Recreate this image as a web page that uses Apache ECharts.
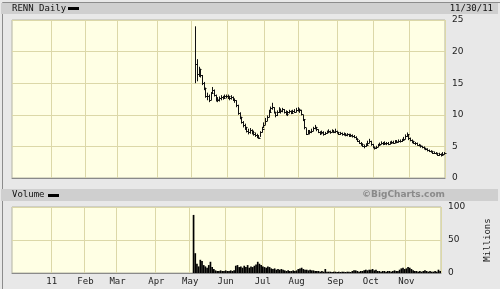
<!DOCTYPE html>
<html><head><meta charset="utf-8">
<script src="https://cdn.jsdelivr.net/npm/echarts@6/dist/echarts.min.js"></script>
<style>html,body{margin:0;padding:0;background:#e8e8e8}#c{width:500px;height:289px}</style>
</head><body><div id="c"></div>
<script>
// ---- data ----
const symbolTitle = 'RENN Daily';
const asOfDate = '11/30/11';
const rangeStart = [2010, 10, 30]; // Nov 30, 2010 (UTC y, m0, d)
const rangeEnd = [2011, 10, 30];   // Nov 30, 2011
const holidays = ['2010-12-24','2011-01-17','2011-02-21','2011-04-22','2011-05-30','2011-07-04','2011-09-05','2011-11-24'];
const monthLabels = {'01':'11','02':'Feb','03':'Mar','04':'Apr','05':'May','06':'Jun','07':'Jul','08':'Aug','09':'Sep','10':'Oct','11':'Nov','12':'Dec'};
const ipoDate = '2011-05-04';
const priceTicks = [0, 5, 10, 15, 20, 25];
const volumeTicks = [0, 50, 100];

const priceHigh = [
 24.0,18.8,17.6,17.3,16.3,15.2,14.3,13.5,13.2,13.6,14.4,14.0,13.2,12.8,12.9,13.1,13.0,13.2,13.2,
 13.2,13.0,13.1,12.9,12.6,12.3,11.6,10.4,9.7,9.0,8.6,8.1,7.8,7.9,7.7,7.5,7.2,7.0,6.8,7.4,8.1,8.8,
 9.5,9.9,10.8,11.3,11.9,11.2,10.5,10.7,11.2,11.0,11.1,10.9,10.7,10.6,10.8,10.7,10.8,10.9,11.1,11.2,
 11.0,10.8,10.0,9.2,7.9,7.6,7.6,7.8,8.1,8.4,8.1,7.7,7.4,7.5,7.4,7.3,7.5,7.7,7.5,7.7,7.6,7.8,7.5,
 7.3,7.3,7.2,7.2,7.1,7.1,7.0,7.0,6.9,6.8,6.6,6.3,6.0,5.7,5.5,5.3,5.5,5.9,6.2,5.9,5.4,
 5.0,5.1,5.4,5.6,5.8,5.7,5.8,5.7,5.7,5.8,5.9,5.9,6.0,6.0,6.1,6.1,6.2,6.5,6.9,7.2,6.9,
 6.4,6.1,5.9,5.7,5.6,5.4,5.3,5.1,5.0,4.8,4.7,4.5,4.4,4.3,4.2,4.1,4.0,4.0,3.9,4.1,4.1
];
const priceLow = [
 15.0,15.3,16.0,15.9,14.7,13.9,12.7,12.3,12.0,12.3,13.3,12.9,12.1,12.0,12.1,12.3,12.4,12.5,12.6,
 12.5,12.3,12.4,12.2,11.9,11.2,10.0,9.3,8.6,8.0,7.6,7.2,6.9,7.0,6.9,6.7,6.5,6.3,6.2,6.5,7.2,7.9,
 8.4,9.0,9.6,10.4,10.8,10.2,9.6,9.8,10.3,10.2,10.4,10.2,9.9,9.8,10.2,10.1,10.2,10.3,10.4,10.5,
 10.3,9.9,9.0,7.7,6.8,6.9,6.9,7.1,7.4,7.7,7.4,7.1,6.8,6.9,6.7,6.8,7.0,7.1,7.0,7.2,7.1,7.1,7.0,
 6.8,6.8,6.7,6.7,6.6,6.6,6.5,6.5,6.4,6.3,6.0,5.7,5.4,5.1,4.9,4.7,4.9,5.2,5.5,5.1,4.7,
 4.5,4.6,4.9,5.1,5.3,5.2,5.3,5.2,5.2,5.3,5.5,5.4,5.5,5.5,5.6,5.6,5.7,5.9,6.1,6.5,6.0,
 5.8,5.5,5.4,5.2,5.1,5.0,4.8,4.7,4.5,4.4,4.2,4.1,4.0,3.8,3.8,3.7,3.5,3.5,3.4,3.6,3.7
];
const priceClose = [
 18.0,16.4,17.2,16.3,15.1,14.2,13.0,12.9,12.4,13.4,14.0,13.2,12.5,12.3,12.6,12.8,12.7,13.0,12.9,
 12.9,12.6,12.8,12.4,12.3,11.5,10.3,9.6,8.9,8.4,8.0,7.5,7.2,7.6,7.3,7.0,6.8,6.5,6.4,7.2,7.8,8.4,
 9.0,9.6,10.5,11.0,11.3,10.4,9.9,10.4,10.8,10.6,10.9,10.5,10.2,10.4,10.6,10.3,10.6,10.5,10.8,10.9,
 10.7,10.2,9.3,8.0,7.0,7.4,7.2,7.5,7.9,8.1,7.7,7.3,7.1,7.3,7.0,7.1,7.3,7.4,7.2,7.5,7.3,7.4,7.2,
 7.0,7.1,6.9,7.0,6.8,6.9,6.7,6.8,6.6,6.5,6.2,5.9,5.6,5.4,5.1,5.0,5.3,5.6,5.9,5.4,4.9,
 4.7,4.9,5.2,5.4,5.5,5.4,5.6,5.5,5.4,5.6,5.7,5.6,5.8,5.7,5.9,5.8,6.0,6.2,6.6,6.9,6.3,
 6.0,5.8,5.6,5.5,5.3,5.2,5.0,4.9,4.7,4.6,4.4,4.3,4.2,4.0,4.0,3.9,3.7,3.8,3.7,3.8,3.9
];
const volumeMillions = [
 88,30,14,10,20,18,12,10,8,12,17,9,6,4,3,3,4,3,3,
 4,3,3,4,3,4,11,12,9,10,8,11,9,12,8,10,9,11,13,17,14,12,
 10,9,8,10,9,7,6,7,5,6,5,6,5,4,3,4,3,3,4,3,
 4,6,7,8,6,5,5,4,5,4,4,3,3,3,2,3,2,6,2,2,2,1.5,2,
 2,1.5,2,1.5,2,2,1.5,2,2,1.5,3,4,4,3,2,3,3,4,5,4,5,
 5,6,4,5,3,3,2,3,3,2,3,3,2,3,4,3,3,5,7,8,6,
 7,9,8,6,4,3,3,2,3,2,3,4,3,2,3,2,2,3,2,5,3
];

// ---- build trading-day categories ----
function tradingDays(){
  const out=[]; let t=Date.UTC(rangeStart[0],rangeStart[1],rangeStart[2]); const end=Date.UTC(rangeEnd[0],rangeEnd[1],rangeEnd[2]);
  while(t<=end){ const d=new Date(t); const wd=d.getUTCDay(); const s=d.toISOString().slice(0,10);
    if(wd!==0 && wd!==6 && holidays.indexOf(s)<0) out.push(s); t+=86400000; }
  return out;
}
const days = tradingDays();
const ipoIdx = days.indexOf(ipoDate);
if (priceHigh.length!==priceLow.length || priceLow.length!==priceClose.length || priceClose.length!==volumeMillions.length || ipoIdx+priceClose.length!==days.length)
  throw new Error('length mismatch '+priceHigh.length+' '+priceLow.length+' '+priceClose.length+' '+volumeMillions.length+' '+ipoIdx+' '+days.length);

const isMonthStart = i => i>0 && days[i].slice(5,7)!==days[i-1].slice(5,7) && days[i].slice(5,7)!=='12';
const ohlc = priceClose.map((c,k)=>[ipoIdx+k, priceLow[k], priceHigh[k], c]);
const volData = days.map((d,i)=> i<ipoIdx ? null : volumeMillions[i-ipoIdx]);

const GRID_LINE = '#dcd8a8';
const PLOT_BG = '#ffffe4';
const MONO = 'DejaVu Sans Mono';

const chart = echarts.init(document.getElementById('c'), null, {renderer:'canvas'});
const xBase = (gi, showLabels) => ({
  type:'category', gridIndex:gi, data:days, boundaryGap:true,
  axisTick:{show:false},
  axisLine:{show:true, lineStyle:{color:'#8a8a8a', width:1}},
  splitLine:{show:true, interval:(i)=>isMonthStart(i), lineStyle:{color:GRID_LINE, width:1}},
  axisLabel:{show:showLabels, interval:(i)=>isMonthStart(i), formatter:(v)=>monthLabels[v.slice(5,7)],
    fontFamily:MONO, fontSize:9, color:'#222', margin:4}
});
chart.setOption({
  animation:false,
  backgroundColor:'#e8e8e8',
  graphic:[
    {type:'rect', left:0, top:0, shape:{width:499, height:288}, style:{fill:'none', stroke:'#8c8c8c', lineWidth:1}, z:-1, silent:true},
    {type:'rect', shape:{x:1, y:3, width:497, height:11}, style:{fill:'#cfcfcf'}, z:-1},
    {type:'rect', shape:{x:1, y:189, width:497, height:12}, style:{fill:'#cfcfcf'}, z:-1},
    {type:'text', x:12, y:8.5, style:{text:symbolTitle, font:'9px "DejaVu Sans Mono"', fill:'#111', verticalAlign:'middle'}},
    {type:'rect', shape:{x:68, y:7, width:11, height:3}, style:{fill:'#000'}},
    {type:'text', x:493, y:8.5, style:{text:asOfDate, font:'9px "DejaVu Sans Mono"', fill:'#111', align:'right', verticalAlign:'middle'}},
    {type:'text', x:12, y:195, style:{text:'Volume', font:'9px "DejaVu Sans Mono"', fill:'#111', verticalAlign:'middle'}},
    {type:'rect', shape:{x:48, y:194, width:11, height:3}, style:{fill:'#000'}},
    {type:'text', x:445, y:195, style:{text:'\u00A9BigCharts.com', font:'bold 9px "DejaVu Sans"', fill:'#8a8a8a', align:'right', verticalAlign:'middle'}}
  ],
  grid:[
    {left:12, top:20, width:433, height:158, show:true, backgroundColor:PLOT_BG, borderColor:'#b4b4a4', borderWidth:1},
    {left:12, top:207, width:433, height:66, show:true, backgroundColor:PLOT_BG, borderColor:'#b4b4a4', borderWidth:1}
  ],
  xAxis:[ xBase(0,false), xBase(1,true) ],
  yAxis:[
    {type:'value', gridIndex:0, position:'right', min:priceTicks[0], max:priceTicks[priceTicks.length-1], interval:5,
      axisLine:{show:false}, axisTick:{show:false},
      splitLine:{show:true, lineStyle:{color:GRID_LINE, width:1}},
      axisLabel:{fontFamily:'DejaVu Sans', fontSize:9, color:'#222', margin:7}},
    {type:'value', gridIndex:1, position:'right', min:volumeTicks[0], max:volumeTicks[volumeTicks.length-1], interval:50,
      axisLine:{show:false}, axisTick:{show:false},
      splitLine:{show:true, lineStyle:{color:GRID_LINE, width:1}},
      axisLabel:{fontFamily:'DejaVu Sans', fontSize:9, color:'#222', margin:7},
      name:'Millions', nameLocation:'middle', nameRotate:90, nameGap:42,
      nameTextStyle:{fontFamily:MONO, fontSize:9, color:'#222'}}
  ],
  series:[
    {type:'custom', xAxisIndex:0, yAxisIndex:0, data:ohlc, encode:{x:0, y:[1,2,3]},
      renderItem:(params, api)=>{
        const i=api.value(0);
        const lo=api.coord([i, api.value(1)]), hi=api.coord([i, api.value(2)]), cl=api.coord([i, api.value(3)]);
        const x=Math.round(lo[0])+0.5, yc=Math.round(cl[1])+0.5;
        return {type:'group', children:[
          {type:'line', shape:{x1:x, y1:hi[1], x2:x, y2:lo[1]}, style:{stroke:'#111', lineWidth:1}},
          {type:'line', shape:{x1:x, y1:yc, x2:x+2, y2:yc}, style:{stroke:'#111', lineWidth:1}}
        ]};
      }},
    {type:'bar', xAxisIndex:1, yAxisIndex:1, data:volData, barCategoryGap:'0%', barGap:'0%',
      itemStyle:{color:'#000'}, large:false}
  ]
});
</script></body></html>
